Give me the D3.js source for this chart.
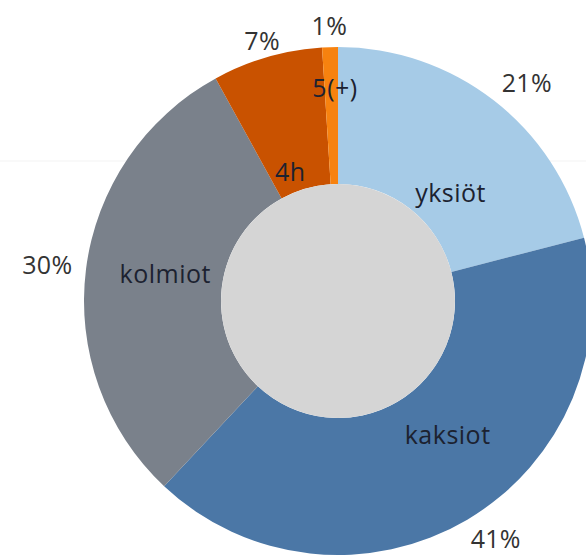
<!DOCTYPE html>
<html>
<head>
<meta charset="utf-8">
<script src="https://cdn.jsdelivr.net/npm/d3@7"></script>
<style>
  body { margin: 0; background: #fff; }
  svg { display: block; }
  .pct { font-family: "Open Sans", sans-serif; font-size: 25px; fill: #333; letter-spacing: 0.3px; }
  .cat { font-family: "Open Sans", sans-serif; font-size: 25px; fill: #1c2230; letter-spacing: 0.5px; }
</style>
</head>
<body>
<div id="chart"></div>
<script>
// Data
const categories = ['yksiöt', 'kaksiot', 'kolmiot', '4h', '5(+)'];
const shares = [21, 41, 30, 7, 1];
const pctLabels = ['21%', '41%', '30%', '7%', '1%'];

const colors = ['#a6cbe7', '#4b77a6', '#7a818b', '#c95200', '#f7820f'];

// label placement (radius, angle nudge in degrees)
const catPlace = [[157, 8], [172, -9], [175, 2], [138, -4], [214, 1]];
const pctPlace = [[289, 3], [285, -3], [293, 0], [272, 0], [276, 0]];

const width = 586;
const height = 558;
const cx = 338;
const cy = 301;
const rOuter = 254;
const rInner = 117;

const svg = d3
  .select('#chart')
  .append('svg')
  .attr('width', width)
  .attr('height', height);

// faint background rule
svg
  .append('line')
  .attr('x1', 0)
  .attr('x2', width)
  .attr('y1', 161)
  .attr('y2', 161)
  .attr('stroke', '#f3f3f3');

const g = svg.append('g').attr('transform', `translate(${cx}, ${cy})`);

const data = categories.map((c, i) => ({ name: c, value: shares[i], pct: pctLabels[i], i }));

const pie = d3.pie().sort(null).value((d) => d.value);
const arcs = pie(data);

const arc = d3.arc().innerRadius(rInner).outerRadius(rOuter);

g.selectAll('path')
  .data(arcs)
  .join('path')
  .attr('d', arc)
  .attr('fill', (d) => colors[d.data.i]);

// hole
g.append('circle').attr('r', rInner).attr('fill', '#d5d5d5');

const pos = (d, place) => {
  const [r, nudge] = place[d.data.i];
  const a = (d.startAngle + d.endAngle) / 2 + (nudge * Math.PI) / 180;
  return [r * Math.sin(a), -r * Math.cos(a)];
};

g.selectAll('text.cat')
  .data(arcs)
  .join('text')
  .attr('class', 'cat')
  .attr('text-anchor', 'middle')
  .attr('dominant-baseline', 'central')
  .attr('transform', (d) => `translate(${pos(d, catPlace)})`)
  .text((d) => d.data.name);

g.selectAll('text.pct')
  .data(arcs)
  .join('text')
  .attr('class', 'pct')
  .attr('text-anchor', 'middle')
  .attr('dominant-baseline', 'central')
  .attr('transform', (d) => `translate(${pos(d, pctPlace)})`)
  .text((d) => d.data.pct);
</script>
</body>
</html>
